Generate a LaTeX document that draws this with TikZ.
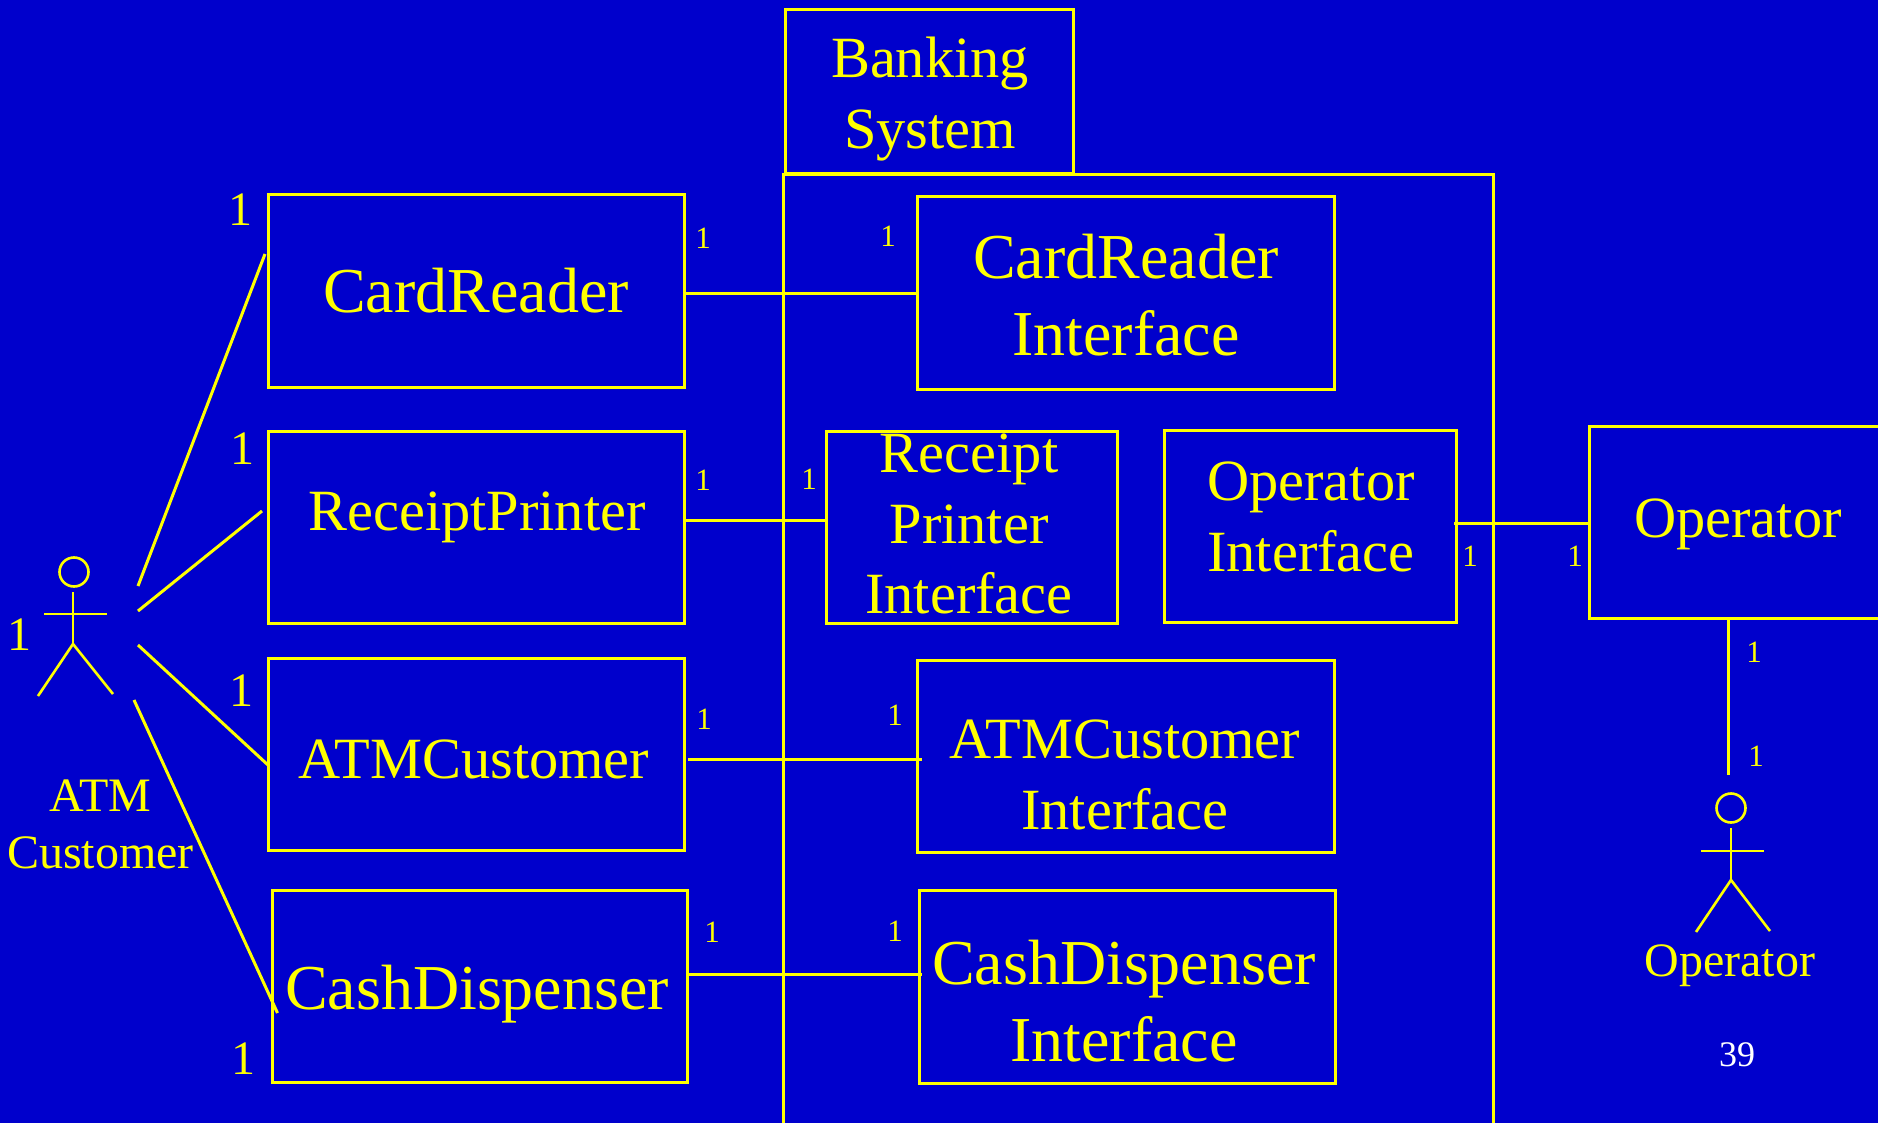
\documentclass[tikz,border=0pt]{standalone}
\usepackage{fontspec}
\setmainfont{Liberation Serif}
\definecolor{slideblue}{HTML}{0000CC}
\definecolor{slideyellow}{HTML}{FFFF00}
\tikzset{
  box/.style={draw=slideyellow,line width=3pt,outer sep=0pt,inner sep=0pt},
  wire/.style={draw=slideyellow,line width=3pt},
  limb/.style={draw=slideyellow,line width=2.6pt},
  label/.style={text=slideyellow,inner sep=0pt,align=center},
  huge/.style={label,font=\fontsize{64}{77}\selectfont},
  large/.style={label,font=\fontsize{58.4}{70.5}\selectfont},
  small/.style={label,font=\fontsize{48}{57}\selectfont},
  tiny/.style={label,font=\fontsize{31}{31}\selectfont}
}

\begin{document}
\begin{tikzpicture}[x=1pt,y=-1pt]
    \useasboundingbox (0,0) rectangle (1878,1123);
    \fill [slideblue] (0,0) rectangle (1878,1123);
    % boxes
    \node (banking) at (929.5,92) [box,minimum width=288,minimum height=164] {};
    \node (system) at (1138,660) [box,minimum width=710,minimum height=970] {};
    \node (cardreader) at (476,291) [box,minimum width=416,minimum height=192] {};
    \node (receipt) at (476,527) [box,minimum width=416,minimum height=192] {};
    \node (atmcustomer) at (476,754) [box,minimum width=416,minimum height=192] {};
    \node (cash) at (480,986) [box,minimum width=415,minimum height=192] {};
    \node (cardreaderif) at (1126,293) [box,minimum width=417,minimum height=192] {};
    \node (receiptif) at (972,527) [box,minimum width=291,minimum height=192] {};
    \node (operatorif) at (1310,526) [box,minimum width=292,minimum height=192] {};
    \node (atmif) at (1126,756) [box,minimum width=417,minimum height=192] {};
    \node (cashif) at (1127,987) [box,minimum width=416,minimum height=193] {};
    \node (operator) at (1740,522) [box,minimum width=302,minimum height=192] {};
    % box texts
    \node (bankingtext) at (930,99) [large] {Banking\\System};
    \node (cardreadertext) at (476,291) [huge] {CardReader};
    \node (receipttext) at (477,517) [large] {ReceiptPrinter};
    \node (atmcustomertext) at (474,759) [large] {ATMCustomer};
    \node (cashtext) at (477,994) [huge] {CashDispenser};
    \node (cardreaderiftext) at (1126,295) [huge] {CardReader\\Interface};
    \node (receiptiftext) at (969,524) [large] {Receipt\\Printer\\Interface};
    \node (operatoriftext) at (1311,517) [large] {Operator\\Interface};
    \node (atmiftext) at (1125,775) [large] {ATMCustomer\\Interface};
    \node (cashiftext) at (1124,1001) [huge] {CashDispenser\\Interface};
    \node (operatortext) at (1738,524) [large] {Operator};
    % connectors
    \draw [wire] (cardreader.east |- cardreaderif.west) -- (cardreaderif.west);
    \draw [wire] ([yshift=7pt]receipt.east) -- ([yshift=7pt]receiptif.west);
    \draw [wire] ([xshift=4pt,yshift=-5pt]atmcustomer.east) -- ([xshift=4pt,yshift=-3pt]atmif.west);
    \draw [wire] ([yshift=12pt]cash.east) -- ([xshift=3pt,yshift=13pt]cashif.west);
    \draw [wire] ([xshift=-2pt,yshift=3pt]operatorif.east) -- ([yshift=-1pt]operator.west);
    % ATM customer actor
    \node (atmhead) at (74,572) [circle,draw=slideyellow,line width=2.6pt,minimum size=29pt,inner sep=0pt] {};
    \coordinate (atmneck) at (73,592);
    \coordinate (atmhip) at (73,644);
    \coordinate (atmarmleft) at (44,614);
    \coordinate (atmarmright) at (107,614);
    \coordinate (atmfootleft) at (38,696);
    \coordinate (atmfootright) at (113,694);
    \draw [limb] (atmneck) -- (atmhip);
    \draw [limb] (atmarmleft) -- (atmarmright);
    \draw [limb] (atmfootleft) -- (atmhip) -- (atmfootright);
    \node (atmname) at (100.5,824) [small] {ATM\\Customer};
    \coordinate (atmline1) at (138,586);
    \coordinate (atmline2) at (138,611);
    \coordinate (atmline3) at (138,645);
    \coordinate (atmline4) at (134,700);
    \draw [wire] (atmline1) -- ([xshift=-3pt,yshift=37pt]cardreader.west);
    \draw [wire] (atmline2) -- ([xshift=-6pt,yshift=16pt]receipt.west);
    \draw [wire] (atmline3) -- ([yshift=-11pt]atmcustomer.west);
    \draw [wire] (atmline4) -- ([xshift=5pt,yshift=-27pt]cash.west);
    % operator actor
    \node (ophead) at (1731,808) [circle,draw=slideyellow,line width=2.6pt,minimum size=29pt,inner sep=0pt] {};
    \coordinate (opneck) at (1731,828);
    \coordinate (ophip) at (1731,880);
    \coordinate (oparmleft) at (1701,851);
    \coordinate (oparmright) at (1764,851);
    \coordinate (opfootleft) at (1696,932);
    \coordinate (opfootright) at (1770,931);
    \coordinate (optop) at (1728,775);
    \draw [limb] (opneck) -- (ophip);
    \draw [limb] (oparmleft) -- (oparmright);
    \draw [limb] (opfootleft) -- (ophip) -- (opfootright);
    \draw [wire] (operator.south -| optop) -- (optop);
    \node (opname) at (1730,966) [small] {Operator};
    % multiplicities
    \node (m1) at (240,210) [small] {1};
    \node (m2) at (242,449) [small] {1};
    \node (m3) at (241,691) [small] {1};
    \node (m4) at (243,1059) [small] {1};
    \node (m5) at (20,635) [small] {1};
    \begin{scope}[every node/.style={tiny}]
      \node (n1) at (703,238) {1};
      \node (n2) at (888,236) {1};
      \node (n3) at (703,480) {1};
      \node (n4) at (809,479) {1};
      \node (n5) at (704,719) {1};
      \node (n6) at (895,715) {1};
      \node (n7) at (712,932) {1};
      \node (n8) at (895,931) {1};
      \node (n9) at (1470,556) {1};
      \node (n10) at (1575,556) {1};
      \node (n11) at (1754,652) {1};
      \node (n12) at (1756,756) {1};
    \end{scope}
    \node (pagenumber) at (1737,1055) [label,text=white,font=\fontsize{36}{36}\selectfont] {39};
\end{tikzpicture}
\end{document}
